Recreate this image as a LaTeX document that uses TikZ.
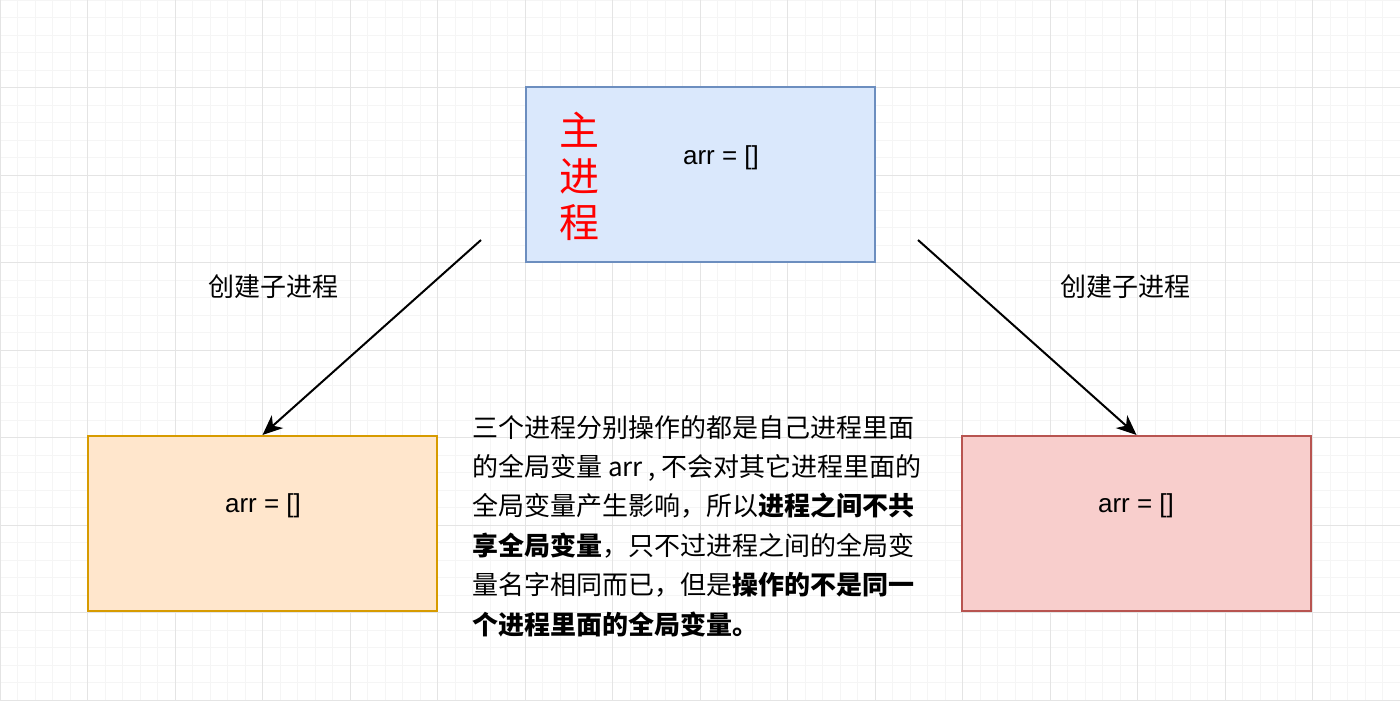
\documentclass[tikz,border=0pt]{standalone}
\usepackage{fontspec}
\setmainfont{Liberation Sans}
\newfontfamily\cjk{Noto Sans CJK SC}
\usetikzlibrary{arrows.meta}
\definecolor{gridminor}{HTML}{F5F5F5}
\definecolor{gridmajor}{HTML}{E4E4E4}
\definecolor{bluefill}{HTML}{DAE8FC}
\definecolor{blueline}{HTML}{6C8EBF}
\definecolor{orangefill}{HTML}{FFE6CC}
\definecolor{orangeline}{HTML}{D79B00}
\definecolor{redfill}{HTML}{F8CECC}
\definecolor{redline}{HTML}{B85450}
\definecolor{redtext}{HTML}{FF0000}
\tikzset{
  procbox/.style={draw, line width=2pt, minimum width=349pt, minimum height=175pt, inner sep=0pt},
  boxtext/.style={font=\fontsize{26}{30}\selectfont, inner sep=0pt},
  label/.style={font=\cjk\fontsize{26}{30}\selectfont, inner sep=0pt},
  para/.style={font=\cjk\fontsize{26}{39}\selectfont, inner sep=0pt, anchor=base west},
  conn/.style={line width=2pt, -{Stealth[length=20pt, width=17pt, inset=6pt]}},
}
\begin{document}
\begin{tikzpicture}[x=1pt, y=-1pt]
\useasboundingbox (0,0) rectangle (1400,701);
\fill[white] (0,0) rectangle (1400,701);
% grid
\foreach \i in {0,...,80} {
  \draw[gridminor, line width=0.8pt] (\i*17.5,0) -- (\i*17.5,701);
}
\foreach \i in {0,...,40} {
  \draw[gridminor, line width=0.8pt] (0,\i*17.5) -- (1400,\i*17.5);
}
\foreach \i in {0,...,16} {
  \draw[gridmajor, line width=1pt] (\i*87.5,0) -- (\i*87.5,701);
}
\foreach \i in {0,...,8} {
  \draw[gridmajor, line width=1pt] (0,\i*87.5) -- (1400,\i*87.5);
}
% boxes
\node[procbox, fill=bluefill, draw=blueline] (main) at (700,174.5) {};
\node[procbox, fill=orangefill, draw=orangeline] (left) at (262.5,523.5) {};
\node[procbox, fill=redfill, draw=redline] (right) at (1136.5,523.5) {};
\node[boxtext] (maintext) at (721,158) {arr = []};
\node[boxtext] (lefttext) at (263,506) {arr = []};
\node[boxtext] (righttext) at (1136,506) {arr = []};
\node[font=\cjk\fontsize{40}{46}\selectfont, text=redtext, align=center, inner sep=0pt] (maintitle) at (579,176) {主\\进\\程};
% connectors
\coordinate (ls) at (481,240);
\coordinate (rs) at (918,240);
\draw[conn] (ls) -- (left.north);
\draw[conn] (rs) -- (right.north);
\node[label] (llabel) at (273,287) {创建子进程};
\node[label] (rlabel) at (1125,287) {创建子进程};
% paragraph
\node[para] (p1) at (472,437) {三个进程分别操作的都是自己进程里面};
\node[para] (p2) at (472,476.4) {的全局变量 arr , 不会对其它进程里面的};
\node[para] (p3) at (472,515.8) {全局变量产生影响，所以\textbf{进程之间不共}};
\node[para] (p4) at (472,555.2) {\textbf{享全局变量}，只不过进程之间的全局变};
\node[para] (p5) at (472,594.6) {量名字相同而已，但是\textbf{操作的不是同一}};
\node[para] (p6) at (472,634) {\textbf{个进程里面的全局变量。}};
\end{tikzpicture}
\end{document}
